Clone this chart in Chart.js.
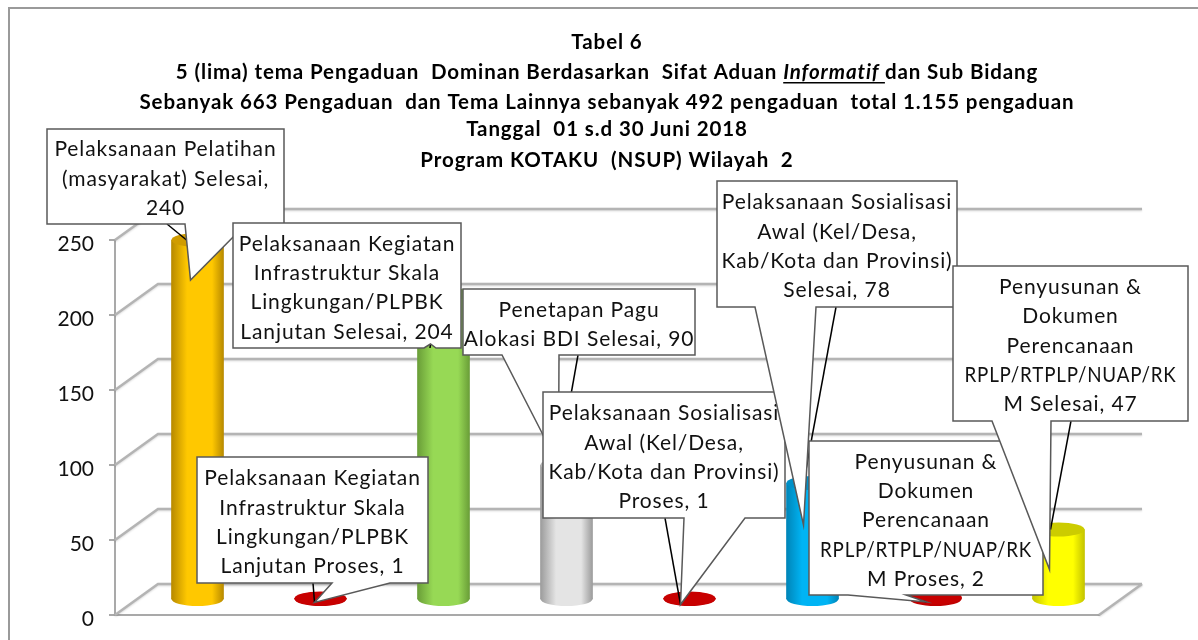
<!DOCTYPE html>
<html>
<head>
<meta charset="utf-8">
<title>Tabel 6</title>
<script src="https://cdn.jsdelivr.net/npm/chart.js@4"></script>
<style>
    html, body { margin: 0; padding: 0; background: #fff; }
    canvas { display: block; }
</style>
</head>
<body>
<canvas id="tabel6" width="1198" height="640"></canvas>
<script>
"use strict";

// data
const categories = [
    "Pelaksanaan Pelatihan (masyarakat) Selesai",
    "Pelaksanaan Kegiatan Infrastruktur Skala Lingkungan/PLPBK Lanjutan Proses",
    "Pelaksanaan Kegiatan Infrastruktur Skala Lingkungan/PLPBK Lanjutan Selesai",
    "Penetapan Pagu Alokasi BDI Selesai",
    "Pelaksanaan Sosialisasi Awal (Kel/Desa, Kab/Kota dan Provinsi) Proses",
    "Pelaksanaan Sosialisasi Awal (Kel/Desa, Kab/Kota dan Provinsi) Selesai",
    "Penyusunan & Dokumen Perencanaan RPLP/RTPLP/NUAP/RKM Proses",
    "Penyusunan & Dokumen Perencanaan RPLP/RTPLP/NUAP/RKM Selesai"
];
const values = [240, 1, 204, 90, 1, 78, 2, 47];
const yTicks = [0, 50, 100, 150, 200, 250];

// how the callouts wrap, {v} is the value of that bar
const labelLines = [
    ["Pelaksanaan Pelatihan", "(masyarakat) Selesai,", "{v}"],
    ["Pelaksanaan Kegiatan", "Infrastruktur Skala", "Lingkungan/PLPBK", "Lanjutan Proses, {v}"],
    ["Pelaksanaan Kegiatan", "Infrastruktur Skala", "Lingkungan/PLPBK", "Lanjutan Selesai, {v}"],
    ["Penetapan Pagu", "Alokasi BDI Selesai, {v}"],
    ["Pelaksanaan Sosialisasi", "Awal (Kel/Desa,", "Kab/Kota dan Provinsi)", "Proses, {v}"],
    ["Pelaksanaan Sosialisasi", "Awal (Kel/Desa,", "Kab/Kota dan Provinsi)", "Selesai, {v}"],
    ["Penyusunan &", "Dokumen", "Perencanaan", "RPLP/RTPLP/NUAP/RK", "M Proses, {v}"],
    ["Penyusunan &", "Dokumen", "Perencanaan", "RPLP/RTPLP/NUAP/RK", "M Selesai, {v}"]
];

const titleLines = [
    [["Tabel 6", ""]],
    [["5 (lima) tema Pengaduan  Dominan Berdasarkan  Sifat Aduan ", ""], ["Informatif ", "i"], ["dan Sub Bidang", ""]],
    [["Sebanyak 663 Pengaduan  dan Tema Lainnya sebanyak 492 pengaduan  total 1.155 pengaduan", ""]],
    [["Tanggal  01 s.d 30 Juni 2018", ""]],
    [["Program KOTAKU  (NSUP) Wilayah  2", ""]]
];

// look of the bars: edge, middle, top cap
const barEdge = ["#b88a00", "#c00000", "#6a9e38", "#9c9c9c", "#c00000", "#0085b8", "#c00000", "#c4c400"];
const barMid = ["#ffc800", "#c00000", "#97d955", "#e4e4e4", "#c00000", "#00b4f4", "#c00000", "#ffff00"];
const barTop = ["#d09c00", "#c80000", "#7fb545", "#b4b4b4", "#c80000", "#0090c8", "#c80000", "#cccc00"];

// callout layout: box [left, top, right, bottom], wedge base x on the bottom edge,
// wedge tip and leader as offsets from the top of the bar (after the depth shift)
const calloutBox = [
    [47, 129, 284, 224], [197, 457, 428, 583], [233, 223, 461, 348], [463, 289, 695, 355],
    [543, 392, 785, 518], [717, 181, 957, 307], [809, 441, 1043, 595], [953, 266, 1188, 421]
];
const wedgeBase = [[185, 246], [332, 390], [424, 436], [502, 559], [684, 745], [755, 816], [848, 906], [992, 1051]];
const wedgeTip = [[-7, 40], [-6, 4], [-13, 50], [-8, 0], [-9, 6], [-9, 42], [-9, 5], [-9, 40]];
const leaderFrom = [167, 313, 430, 578, 665, 836, 900, 1071];
const leaderTo = [[-11, 0], [-6, 4], [-13, 50], [-8, 0], [-9, 6], [-9, 0], [-9, 5], [-8, 0]];

const depthX = 21, depthY = -15;      // bars stand halfway the floor
const backX = 43, backY = -31;        // back wall
const capRy = 7;

const textFont = '21px Lato, "Open Sans", sans-serif';
const wallColor = "#a9a9a9";
const backColor = "#b4b4b4";

function barGradient(c) {
    const chart = c.chart, i = c.dataIndex;
    const x = chart.scales.x ? chart.scales.x.getPixelForValue(i) : NaN;
    if (!isFinite(x)) return barMid[i];
    const g = chart.ctx.createLinearGradient(x - 26, 0, x + 26, 0);
    g.addColorStop(0, barEdge[i]);
    g.addColorStop(0.3, barMid[i]);
    g.addColorStop(0.78, barMid[i]);
    g.addColorStop(1, barEdge[i]);
    return g;
}

const frameAndWalls = {
    id: "frameAndWalls",
    beforeDatasetsDraw(chart) {
        const ctx = chart.ctx, yScale = chart.scales.y, area = chart.chartArea;
        ctx.save();
        // picture frame
        ctx.strokeStyle = "#9a9a9a";
        ctx.lineWidth = 2;
        ctx.beginPath();
        ctx.moveTo(9, 640);
        ctx.lineTo(9, 8);
        ctx.lineTo(1198, 8);
        ctx.stroke();

        // grid on the back wall and the left wall
        ctx.strokeStyle = backColor;
        ctx.lineWidth = 2.5;
        ctx.shadowColor = "rgba(0,0,0,0.15)";
        ctx.shadowBlur = 2;
        ctx.shadowOffsetY = 1;
        yScale.ticks.forEach(function (t) {
            const y = yScale.getPixelForValue(t.value);
            ctx.beginPath();
            ctx.moveTo(area.left, y);
            ctx.lineTo(area.left + backX, y + backY);
            ctx.lineTo(area.right + backX, y + backY);
            ctx.stroke();
        });
        // right side of the floor
        const y0 = yScale.getPixelForValue(0);
        ctx.beginPath();
        ctx.moveTo(area.right, y0);
        ctx.lineTo(area.right + backX, y0 + backY);
        ctx.stroke();
        ctx.restore();
    }
};

const cylinders = {
    id: "cylinders",
    beforeDatasetDraw(chart) {
        const ctx = chart.ctx;
        ctx.save();
        ctx.translate(depthX, depthY);
        chart.getDatasetMeta(0).data.forEach(function (bar, i) {
            ctx.fillStyle = bar.options.backgroundColor;
            ctx.beginPath();
            ctx.ellipse(bar.x, bar.base, bar.width / 2, capRy, 0, 0, Math.PI * 2);
            ctx.fill();
        });
    },
    afterDatasetDraw(chart) {
        const ctx = chart.ctx;
        chart.getDatasetMeta(0).data.forEach(function (bar, i) {
            ctx.fillStyle = barTop[i];
            ctx.beginPath();
            ctx.ellipse(bar.x, bar.y, bar.width / 2, capRy, 0, 0, Math.PI * 2);
            ctx.fill();
        });
        ctx.restore();
    }
};

const callouts = {
    id: "callouts",
    afterDatasetsDraw(chart) {
        const ctx = chart.ctx, bars = chart.getDatasetMeta(0).data;
        ctx.save();
        calloutBox.forEach(function (box, i) {
            const bx = bars[i].x + depthX, by = bars[i].y + depthY;
            const l = box[0], t = box[1], r = box[2], b = box[3];

            // leader line under the callout
            ctx.strokeStyle = "#000";
            ctx.lineWidth = 1.5;
            ctx.beginPath();
            ctx.moveTo(leaderFrom[i], b);
            ctx.lineTo(bx + leaderTo[i][0], by + leaderTo[i][1]);
            ctx.stroke();

            ctx.fillStyle = "#fff";
            ctx.strokeStyle = "#595959";
            ctx.lineWidth = 1.5;
            ctx.beginPath();
            ctx.moveTo(l, t);
            ctx.lineTo(r, t);
            ctx.lineTo(r, b);
            ctx.lineTo(wedgeBase[i][1], b);
            ctx.lineTo(bx + wedgeTip[i][0], by + wedgeTip[i][1]);
            ctx.lineTo(wedgeBase[i][0], b);
            ctx.lineTo(l, b);
            ctx.closePath();
            ctx.fill();
            ctx.stroke();

            ctx.fillStyle = "#111";
            ctx.font = textFont;
            ctx.letterSpacing = "0.9px";
            ctx.textAlign = "center";
            ctx.textBaseline = "middle";
            const lines = labelLines[i];
            const lh = 29.3;
            const first = (t + b) / 2 - (lines.length - 1) * lh / 2 + 2.5;
            lines.forEach(function (s, n) {
                const text = s.replace("{v}", values[i]);
                // the long capitals line is squeezed to stay inside its box
                if (s.indexOf("RPLP") === 0) {
                    ctx.fillText(text, (l + r) / 2, first + n * lh, 212);
                } else {
                    ctx.fillText(text, (l + r) / 2, first + n * lh);
                }
            });
            ctx.letterSpacing = "0px";
        });
        ctx.restore();
    }
};

// the title has one italic underlined word so it is written run by run
const titleBlock = {
    id: "titleBlock",
    afterDraw(chart) {
        const ctx = chart.ctx;
        const tops = [42, 72, 102, 129, 160];
        ctx.save();
        ctx.fillStyle = "#000";
        ctx.textBaseline = "middle";
        ctx.textAlign = "left";
        ctx.letterSpacing = "0.9px";
        titleLines.forEach(function (runs, n) {
            let w = 0;
            runs.forEach(function (run) {
                ctx.font = (run[1] ? "italic " : "") + 'bold 20.5px Lato, "Open Sans", sans-serif';
                w += ctx.measureText(run[0]).width;
            });
            let x = 607 - w / 2;
            runs.forEach(function (run) {
                ctx.font = (run[1] ? "italic " : "") + 'bold 20.5px Lato, "Open Sans", sans-serif';
                ctx.fillText(run[0], x, tops[n]);
                const rw = ctx.measureText(run[0]).width;
                if (run[1]) {
                    ctx.fillRect(x, tops[n] + 10, rw, 1.5);
                }
                x += rw;
            });
        });
        ctx.restore();
    }
};

new Chart(document.getElementById("tabel6"), {
    type: "bar",
    data: {
        labels: categories,
        datasets: [{
            data: values,
            backgroundColor: barGradient,
            borderWidth: 0,
            barThickness: 52,
            clip: false
        }]
    },
    options: {
        responsive: false,
        animation: false,
        layout: { padding: { top: 240, right: 99, bottom: 25, left: 0 } },
        plugins: {
            legend: { display: false },
            title: { display: false },
            tooltip: { enabled: false }
        },
        scales: {
            x: {
                ticks: { display: false },
                grid: { display: false },
                border: { display: true, color: wallColor, width: 2 },
                afterFit(scale) { scale.height = 0; }
            },
            y: {
                min: yTicks[0],
                max: yTicks[yTicks.length - 1],
                ticks: {
                    stepSize: 50,
                    padding: 15,
                    color: "#111",
                    // empty first line pushes the number a few px under its tick, like the picture
                    callback: function (v) { return ["", String(v)]; },
                    font: { family: 'Lato, "Open Sans", sans-serif', size: 21, lineHeight: "8px" }
                },
                grid: { drawOnChartArea: false, drawTicks: true, tickLength: 6, color: wallColor, lineWidth: 2 },
                border: { display: true, color: wallColor, width: 2 },
                afterFit(scale) { scale.width = 115; }
            }
        }
    },
    plugins: [frameAndWalls, cylinders, callouts, titleBlock]
});
</script>
</body>
</html>
